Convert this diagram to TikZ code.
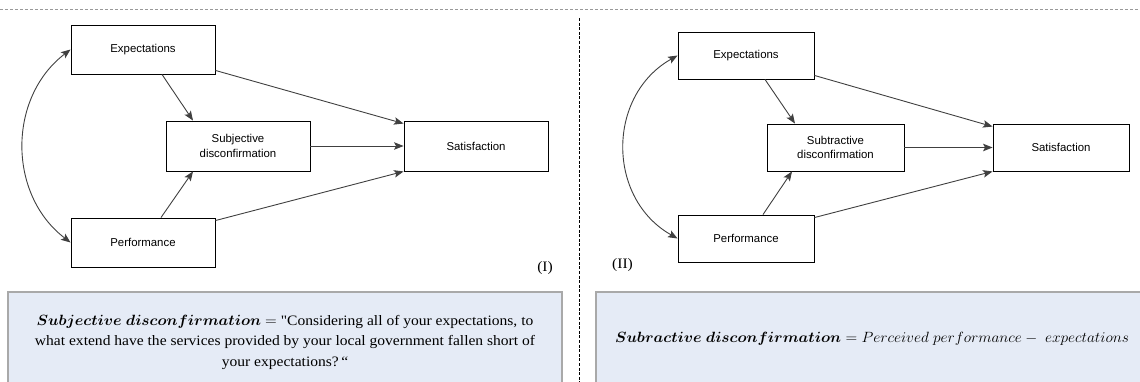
\documentclass[tikz,border=0pt]{standalone}
\usepackage{amsmath,amssymb,bm}
\usepackage{fontspec}
\setmainfont{Liberation Serif}
\newfontfamily\boxfont{Liberation Sans}
\newfontfamily\infofont[FakeStretch=1.08,Ligatures=TeXOff]{Liberation Serif}
\usetikzlibrary{arrows.meta,shadows}
\definecolor{infoblue}{HTML}{E5EBF6}
\definecolor{infoframe}{HTML}{A9A9A9}
\definecolor{linkgray}{HTML}{404040}
% math set a little wider, like the document's own equation font
\newcommand{\widemath}[1]{\scalebox{1.07}[1.03]{$#1$}}
\begin{document}
\begin{tikzpicture}[x=1pt,y=-1pt,
  stepbox/.style={draw=black, line width=0.9pt, fill=white, inner sep=0pt,
    align=center, font=\boxfont\fontsize{11.4}{14.5}\selectfont,
    drop shadow={shadow xshift=0.7pt, shadow yshift=-1.2pt, fill=black!75, opacity=1}},
  leftbox/.style={stepbox, minimum width=144pt, minimum height=49pt},
  rightbox/.style={stepbox, minimum width=136pt, minimum height=47pt},
  link/.style={draw=linkgray, line width=0.9pt, -{Stealth[length=9.5pt,width=7.5pt,inset=2pt]}},
  twoway/.style={draw=linkgray, line width=0.9pt,
    {Stealth[length=9.5pt,width=7.5pt,inset=2pt]}-{Stealth[length=9.5pt,width=7.5pt,inset=2pt]}},
  infobox/.style={draw=infoframe, line width=1.6pt, fill=infoblue},
  infotext/.style={align=center, inner sep=0pt, font=\infofont\fontsize{14.4}{20.5}\selectfont},
  tag/.style={inner sep=0pt, font=\infofont\fontsize{14.4}{16}\selectfont}]
\useasboundingbox (0,0) rectangle (1140,382);

% dividers
\draw[gray!80, line width=1pt, dash pattern=on 3pt off 2pt] (0,10) -- (1140,10);
\draw[black, line width=0.9pt, dash pattern=on 3pt off 1.6pt] (579,18) -- (579,382);

% ---------- model (I) ----------
\node[leftbox] (E1) at (143,49.5) {Expectations};
\node[leftbox, minimum height=50pt] (S1) at (238,146) {Subjective\\disconfirmation};
\node[leftbox, minimum height=50pt] (T1) at (476,146) {Satisfaction};
\node[leftbox] (P1) at (143,242.5) {Performance};

\draw[link] ([xshift=19pt]E1.south) -- ([xshift=-45pt]S1.north);
\draw[link] ([yshift=4pt]E1.south east) -- ([yshift=-3pt]T1.north west);
\draw[link] (S1.east) -- (T1.west);
\draw[link] ([xshift=18pt]P1.north) -- ([xshift=-45pt]S1.south);
\draw[link] ([yshift=-3pt]P1.north east) -- (T1.south west);
\draw[twoway] (E1.west) .. controls +(-63,48) and +(-63,-48) .. (P1.west);

\node[tag, anchor=east] (L1) at (553,268) {(I)};

\draw[infobox] (8,292) rectangle (562,395);
\node[infotext] (D1) at (285,342)
  {\widemath{\boldsymbol{Subjective\ disconfirmation}}\ \widemath{=}\ "Considering all of your expectations, to\\
   what extend have the services provided by your local government fallen short of\\
   your expectations?\,“};

% ---------- model (II) ----------
\node[rightbox] (E2) at (746,55.5) {Expectations};
\node[rightbox, minimum width=137pt] (S2) at (835.5,147.5) {Subtractive\\disconfirmation};
\node[rightbox] (T2) at (1061,147.5) {Satisfaction};
\node[rightbox] (P2) at (746,238.5) {Performance};

\draw[link] ([xshift=19pt]E2.south) -- ([xshift=-40.5pt]S2.north);
\draw[link] ([yshift=4pt]E2.south east) -- ([yshift=-3pt]T2.north west);
\draw[link] (S2.east) -- (T2.west);
\draw[link] ([xshift=17pt]P2.north) -- ([xshift=-43.5pt]S2.south);
\draw[link] ([yshift=-3pt]P2.north east) -- (T2.south west);
\draw[twoway] (E2.west) .. controls +(-71,40) and +(-71,-40) .. (P2.west);

\node[tag, anchor=west] (L2) at (612,265) {(II)};

\draw[infobox] (596,292) rectangle (1150,395);
\node[infotext] (D2) at (872,339)
  {\widemath{\boldsymbol{Subractive\ disconfirmation} = Perceived\ performance -\ expectations}};
\end{tikzpicture}
\end{document}
